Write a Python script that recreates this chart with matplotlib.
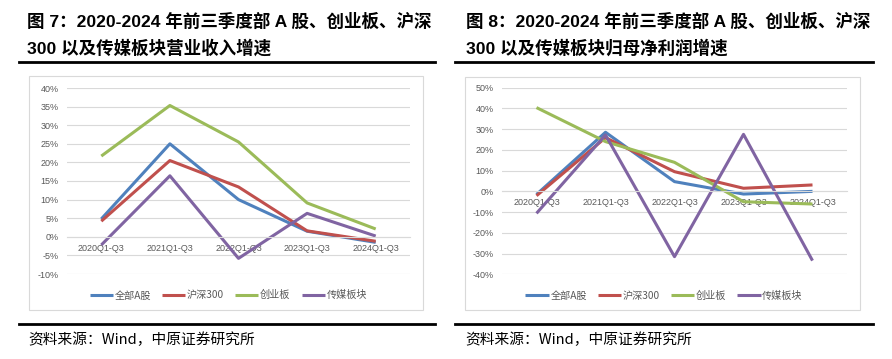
import matplotlib
matplotlib.use('Agg')
import matplotlib.pyplot as plt
from matplotlib.patches import Rectangle
from matplotlib.lines import Line2D
import numpy as np

plt.rcParams['font.family'] = ['Liberation Sans', 'Noto Sans CJK SC', 'DejaVu Sans']

categories = ['2020Q1-Q3', '2021Q1-Q3', '2022Q1-Q3', '2023Q1-Q3', '2024Q1-Q3']
series_names = ['全部A股', '沪深300', '创业板', '传媒板块']
colors = ['#4F81BD', '#C0504D', '#9BBB59', '#8064A2']

# 营业收入增速 (%)
rev_all_a = [4.8, 25.0, 10.0, 1.5, -1.5]
rev_hs300 = [4.2, 20.5, 13.4, 1.6, -1.2]
rev_gem = [21.7, 35.3, 25.5, 9.1, 2.1]
rev_media = [-2.2, 16.4, -5.8, 6.3, 0.2]

# 归母净利润增速 (%)
np_all_a = [-1.5, 28.5, 4.7, -1.3, 0.0]
np_hs300 = [-2.1, 25.9, 9.5, 1.5, 3.1]
np_gem = [40.4, 24.0, 14.0, -5.0, -6.1]
np_media = [-10.6, 27.2, -31.5, 27.5, -33.4]

title_left = ['图 7：2020-2024 年前三季度部 A 股、创业板、沪深',
              '300 以及传媒板块营业收入增速']
title_right = ['图 8：2020-2024 年前三季度部 A 股、创业板、沪深',
               '300 以及传媒板块归母净利润增速']
source_text = '资料来源：Wind，中原证券研究所'

W, H = 892, 359
fig = plt.figure(figsize=(W / 100, H / 100), dpi=100)

def fx(px):
    return px / W

def fy(py):
    return 1 - py / H

grid_c = '#D9D9D9'
text_c = '#595959'


def draw_panel(rect, data, yticks, box):
    # 灰色边框
    bx0, by0, bx1, by1 = box
    fig.patches.append(Rectangle((fx(bx0), fy(by1)), fx(bx1 - bx0), (by1 - by0) / H,
                                 transform=fig.transFigure, fill=False,
                                 edgecolor=grid_c, linewidth=0.8))
    x0, y0, x1, y1 = rect
    ax = fig.add_axes([fx(x0), fy(y1), fx(x1 - x0), (y1 - y0) / H])
    x = np.arange(len(categories))
    for vals, name, c in zip(data, series_names, colors):
        ax.plot(x, vals, color=c, linewidth=2.2, label=name, solid_capstyle='butt')
    ax.set_xlim(-0.5, len(categories) - 0.5)
    ax.set_ylim(yticks[0], yticks[-1])
    ax.set_yticks(yticks)
    ax.set_yticklabels([f'{v}%' for v in yticks])
    ax.set_xticks(x)
    ax.set_xticklabels(categories)
    ax.yaxis.grid(True, color=grid_c, linewidth=0.8)
    ax.set_axisbelow(True)
    for s in ['top', 'right', 'left']:
        ax.spines[s].set_visible(False)
    ax.spines['bottom'].set_position(('data', 0))
    ax.spines['bottom'].set_color(grid_c)
    ax.spines['bottom'].set_linewidth(0.8)
    ax.tick_params(axis='both', length=0, labelsize=6.5, labelcolor=text_c)
    ax.tick_params(axis='x', pad=5)
    ax.tick_params(axis='y', pad=6)
    ax.patch.set_visible(False)
    ax.legend(loc='center', bbox_to_anchor=(0.47, -0.115), ncol=4, frameon=False,
              handlelength=2.3, handletextpad=0.15, columnspacing=1.1,
              labelcolor=text_c, prop={'family': ['Noto Sans CJK SC'], 'size': 7.3})
    return ax


draw_panel((67, 88, 410, 274),
           [rev_all_a, rev_hs300, rev_gem, rev_media],
           [-10, -5, 0, 5, 10, 15, 20, 25, 30, 35, 40],
           (29, 76, 423, 310))
draw_panel((502, 87.7, 847, 274.3),
           [np_all_a, np_hs300, np_gem, np_media],
           [-40, -30, -20, -10, 0, 10, 20, 30, 40, 50],
           (465, 77, 860, 310))

# 标题和来源
for tx, lines in [(27, title_left), (466, title_right)]:
    fig.text(fx(tx), fy(21), lines[0], fontsize=12.6, fontweight='bold', va='center', ha='left')
    fig.text(fx(tx), fy(48), lines[1], fontsize=12.6, fontweight='bold', va='center', ha='left')

for a, b in [(19, 435), (455, 873)]:
    fig.lines.append(Line2D([fx(a), fx(b)], [fy(62), fy(62)], transform=fig.transFigure,
                            color='black', linewidth=2))
    fig.lines.append(Line2D([fx(a), fx(b)], [fy(324), fy(324)], transform=fig.transFigure,
                            color='black', linewidth=2))

for tx in [28, 465]:
    fig.text(fx(tx), fy(340), source_text, fontsize=10.6, va='center', ha='left',
             family=['Liberation Sans Narrow', 'Noto Sans CJK SC'])

fig.savefig('out.png', dpi=100)
